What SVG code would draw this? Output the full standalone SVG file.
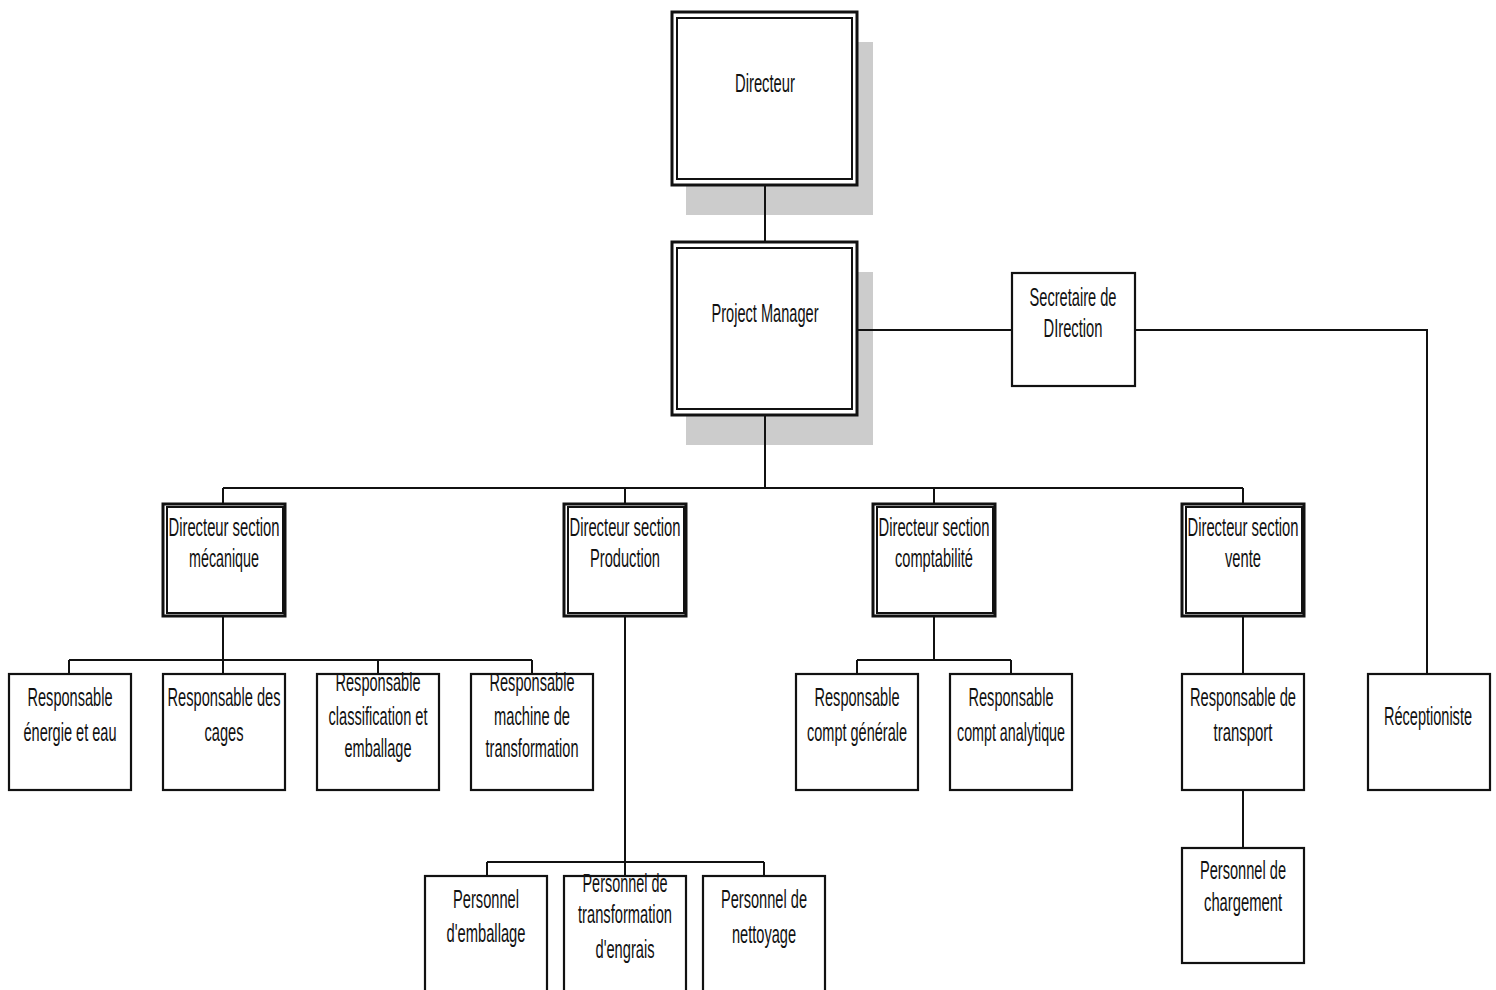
<svg xmlns="http://www.w3.org/2000/svg" width="1496" height="990" viewBox="0 0 1496 990">
<style>
.shadow{fill:#cccccc;stroke:none}
.outer{fill:#fff;stroke:#111;stroke-width:3}
.inner{fill:none;stroke:#111;stroke-width:2}
.box{fill:#fff;stroke:#111;stroke-width:2.2}
.conn line, .conn polyline{stroke:#111;stroke-width:2;fill:none}
text{font-family:"Liberation Sans",Arial,sans-serif;font-size:26px;fill:#111;text-anchor:middle}
</style>
<rect width="1496" height="990" fill="#fff"/>
<g id="directeur">
<rect class="shadow" x="686" y="42" width="187" height="173"/>
<rect class="outer" x="672" y="12" width="185" height="173"/>
<rect class="inner" x="677" y="18" width="175" height="161"/>
<text x="765" y="92" textLength="60" lengthAdjust="spacingAndGlyphs">Directeur</text>
</g>
<g id="project-manager">
<rect class="shadow" x="686" y="272" width="187" height="173"/>
<rect class="outer" x="672" y="242" width="185" height="173"/>
<rect class="inner" x="677" y="248" width="175" height="161"/>
<text x="765" y="322" textLength="107" lengthAdjust="spacingAndGlyphs">Project Manager</text>
</g>
<g id="secretaire">
<rect class="box" x="1012" y="273" width="123" height="113"/>
<text x="1073" y="306" textLength="87" lengthAdjust="spacingAndGlyphs">Secretaire de</text>
<text x="1073" y="337" textLength="59" lengthAdjust="spacingAndGlyphs">DIrection</text>
</g>
<g id="dir-mecanique">
<rect class="outer" x="163" y="504" width="122" height="112"/>
<rect class="inner" x="167" y="507" width="116" height="106" stroke-width="1.5"/>
<text x="224" y="536" textLength="111" lengthAdjust="spacingAndGlyphs">Directeur section</text>
<text x="224" y="567" textLength="70" lengthAdjust="spacingAndGlyphs">mécanique</text>
</g>
<g id="dir-production">
<rect class="outer" x="564" y="504" width="122" height="112"/>
<rect class="inner" x="568" y="507" width="116" height="106" stroke-width="1.5"/>
<text x="625" y="536" textLength="111" lengthAdjust="spacingAndGlyphs">Directeur section</text>
<text x="625" y="567" textLength="70" lengthAdjust="spacingAndGlyphs">Production</text>
</g>
<g id="dir-comptabilite">
<rect class="outer" x="873" y="504" width="122" height="112"/>
<rect class="inner" x="877" y="507" width="116" height="106" stroke-width="1.5"/>
<text x="934" y="536" textLength="111" lengthAdjust="spacingAndGlyphs">Directeur section</text>
<text x="934" y="567" textLength="78" lengthAdjust="spacingAndGlyphs">comptabilité</text>
</g>
<g id="dir-vente">
<rect class="outer" x="1182" y="504" width="122" height="112"/>
<rect class="inner" x="1186" y="507" width="116" height="106" stroke-width="1.5"/>
<text x="1243" y="536" textLength="111" lengthAdjust="spacingAndGlyphs">Directeur section</text>
<text x="1243" y="567" textLength="36" lengthAdjust="spacingAndGlyphs">vente</text>
</g>
<g id="resp-energie">
<rect class="box" x="9" y="674" width="122" height="116"/>
<text x="70" y="706" textLength="85" lengthAdjust="spacingAndGlyphs">Responsable</text>
<text x="70" y="741" textLength="93" lengthAdjust="spacingAndGlyphs">énergie et eau</text>
</g>
<g id="resp-cages">
<rect class="box" x="163" y="674" width="122" height="116"/>
<text x="224" y="706" textLength="113" lengthAdjust="spacingAndGlyphs">Responsable des</text>
<text x="224" y="741" textLength="39" lengthAdjust="spacingAndGlyphs">cages</text>
</g>
<g id="resp-classification">
<rect class="box" x="317" y="674" width="122" height="116"/>
<text x="378" y="691" textLength="85" lengthAdjust="spacingAndGlyphs">Responsable</text>
<text x="378" y="725" textLength="99" lengthAdjust="spacingAndGlyphs">classification et</text>
<text x="378" y="757" textLength="67" lengthAdjust="spacingAndGlyphs">emballage</text>
</g>
<g id="resp-machine">
<rect class="box" x="471" y="674" width="122" height="116"/>
<text x="532" y="691" textLength="85" lengthAdjust="spacingAndGlyphs">Responsable</text>
<text x="532" y="725" textLength="76" lengthAdjust="spacingAndGlyphs">machine de</text>
<text x="532" y="757" textLength="93" lengthAdjust="spacingAndGlyphs">transformation</text>
</g>
<g id="resp-compt-generale">
<rect class="box" x="796" y="674" width="122" height="116"/>
<text x="857" y="706" textLength="85" lengthAdjust="spacingAndGlyphs">Responsable</text>
<text x="857" y="741" textLength="100" lengthAdjust="spacingAndGlyphs">compt générale</text>
</g>
<g id="resp-compt-analytique">
<rect class="box" x="950" y="674" width="122" height="116"/>
<text x="1011" y="706" textLength="85" lengthAdjust="spacingAndGlyphs">Responsable</text>
<text x="1011" y="741" textLength="108" lengthAdjust="spacingAndGlyphs">compt analytique</text>
</g>
<g id="resp-transport">
<rect class="box" x="1182" y="674" width="122" height="116"/>
<text x="1243" y="706" textLength="106" lengthAdjust="spacingAndGlyphs">Responsable de</text>
<text x="1243" y="741" textLength="59" lengthAdjust="spacingAndGlyphs">transport</text>
</g>
<g id="receptioniste">
<rect class="box" x="1368" y="674" width="122" height="116"/>
<text x="1428" y="725" textLength="88" lengthAdjust="spacingAndGlyphs">Réceptioniste</text>
</g>
<g id="pers-chargement">
<rect class="box" x="1182" y="848" width="122" height="115"/>
<text x="1243" y="879" textLength="86" lengthAdjust="spacingAndGlyphs">Personnel de</text>
<text x="1243" y="911" textLength="78" lengthAdjust="spacingAndGlyphs">chargement</text>
</g>
<g id="pers-emballage">
<rect class="box" x="425" y="876" width="122" height="120"/>
<text x="486" y="908" textLength="66" lengthAdjust="spacingAndGlyphs">Personnel</text>
<text x="486" y="942" textLength="79" lengthAdjust="spacingAndGlyphs">d'emballage</text>
</g>
<g id="pers-transformation">
<rect class="box" x="564" y="876" width="122" height="120"/>
<text x="625" y="892" textLength="85" lengthAdjust="spacingAndGlyphs">Personnel de</text>
<text x="625" y="923" textLength="94" lengthAdjust="spacingAndGlyphs">transformation</text>
<text x="625" y="958" textLength="59" lengthAdjust="spacingAndGlyphs">d'engrais</text>
</g>
<g id="pers-nettoyage">
<rect class="box" x="703" y="876" width="122" height="120"/>
<text x="764" y="908" textLength="86" lengthAdjust="spacingAndGlyphs">Personnel de</text>
<text x="764" y="943" textLength="64" lengthAdjust="spacingAndGlyphs">nettoyage</text>
</g>
<g id="connectors" class="conn">
<line x1="765" y1="186" x2="765" y2="241"/>
<line x1="765" y1="416" x2="765" y2="488"/>
<line x1="858" y1="330" x2="1011" y2="330"/>
<polyline points="1136,330 1427,330 1427,673"/>
<line x1="223" y1="488" x2="1243" y2="488"/>
<line x1="223" y1="488" x2="223" y2="503"/>
<line x1="625" y1="488" x2="625" y2="503"/>
<line x1="934" y1="488" x2="934" y2="503"/>
<line x1="1243" y1="488" x2="1243" y2="503"/>
<line x1="223" y1="617" x2="223" y2="660"/>
<line x1="69" y1="660" x2="532" y2="660"/>
<line x1="69" y1="660" x2="69" y2="673"/>
<line x1="223" y1="660" x2="223" y2="673"/>
<line x1="378" y1="660" x2="378" y2="673"/>
<line x1="532" y1="660" x2="532" y2="673"/>
<line x1="934" y1="617" x2="934" y2="660"/>
<line x1="857" y1="660" x2="1011" y2="660"/>
<line x1="857" y1="660" x2="857" y2="673"/>
<line x1="1011" y1="660" x2="1011" y2="673"/>
<line x1="1243" y1="617" x2="1243" y2="673"/>
<line x1="1243" y1="791" x2="1243" y2="847"/>
<line x1="625" y1="617" x2="625" y2="876"/>
<line x1="487" y1="862" x2="764" y2="862"/>
<line x1="487" y1="862" x2="487" y2="875"/>
<line x1="764" y1="862" x2="764" y2="875"/>
</g>
</svg>
